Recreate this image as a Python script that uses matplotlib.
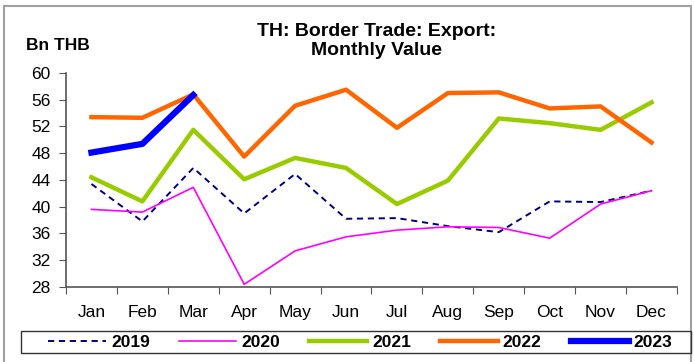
import matplotlib.pyplot as plt
from matplotlib.patches import Rectangle

plt.rcParams['font.family'] = ['Liberation Sans', 'DejaVu Sans']

months = ['Jan', 'Feb', 'Mar', 'Apr', 'May', 'Jun',
          'Jul', 'Aug', 'Sep', 'Oct', 'Nov', 'Dec']
y2019 = [43.4, 37.8, 45.8, 39.0, 44.9, 38.2, 38.3, 37.1, 36.2, 40.8, 40.7, 42.4]
y2020 = [39.6, 39.2, 42.9, 28.4, 33.4, 35.5, 36.5, 37.0, 36.9, 35.3, 40.4, 42.4]
y2021 = [44.4, 40.8, 51.5, 44.1, 47.3, 45.8, 40.4, 43.9, 53.2, 52.5, 51.5, 55.6]
y2022 = [53.4, 53.3, 56.8, 47.5, 55.1, 57.5, 51.8, 57.0, 57.1, 54.7, 55.0, 49.6]
y2023 = [48.1, 49.4, 56.7]

fig = plt.figure(figsize=(6.94, 3.62), dpi=100)
ax = fig.add_axes([0.0951, 0.2072, 0.8804, 0.5912])

x = list(range(12))
ax.plot(x, y2019, color='#000080', lw=1.4, ls=(0, (3.2, 2.4)), label='2019')
ax.plot(x, y2020, color='#FF00FF', lw=1.2, label='2020')
ax.plot(x, y2021, color='#99CC00', lw=3.2, label='2021')
ax.plot(x, y2022, color='#FF6600', lw=3.2, label='2022')
ax.plot(x[:len(y2023)], y2023, color='#0000FF', lw=4.5, label='2023')

ax.set_xlim(-0.5, 11.5)
ax.set_ylim(28, 60)
ax.set_yticks(range(28, 61, 4))
# month names sit between the category boundary ticks
ax.set_xticks([i - 0.5 for i in range(13)])
ax.set_xticklabels([])
ax.set_xticks(x, minor=True)
ax.set_xticklabels(months, minor=True)
ax.tick_params(axis='x', which='minor', length=0, pad=13, labelsize=12.5)
ax.tick_params(axis='x', which='major', length=5, direction='out', color='#555555')
ax.tick_params(axis='y', length=5, direction='out', color='#555555', labelsize=12.5, pad=6)
for side in ['top', 'right']:
    ax.spines[side].set_visible(False)
for side in ['left', 'bottom']:
    ax.spines[side].set_color('#555555')
    ax.spines[side].set_linewidth(1.2)

fig.text(0.542, 0.887, 'TH: Border Trade: Export:\nMonthly Value', ha='center',
         va='center', fontsize=14, fontweight='bold', linespacing=1.12)
fig.text(0.037, 0.873, 'Bn THB', ha='left', va='center', fontsize=12.5, fontweight='bold')

# outer frame around the chart area
fig.patches.append(Rectangle((4 / 694, -0.05), 687 / 694, 1.05 - 6 / 362,
                             transform=fig.transFigure, fill=False,
                             edgecolor='#a0a0a0', lw=1.5))

leg = fig.legend(loc='center', bbox_to_anchor=(0.519, 0.055), ncol=5,
                 prop={'weight': 'bold', 'size': 12.5}, frameon=False,
                 handlelength=3.33, columnspacing=1.67, handletextpad=0.29,
                 bbox_transform=fig.transFigure)
fig.patches.append(Rectangle((21 / 694, 1 - 353 / 362), 670 / 694, 22 / 362,
                             transform=fig.transFigure, fill=False,
                             edgecolor='#333333', lw=1.0))

fig.savefig('out.png', dpi=100)
